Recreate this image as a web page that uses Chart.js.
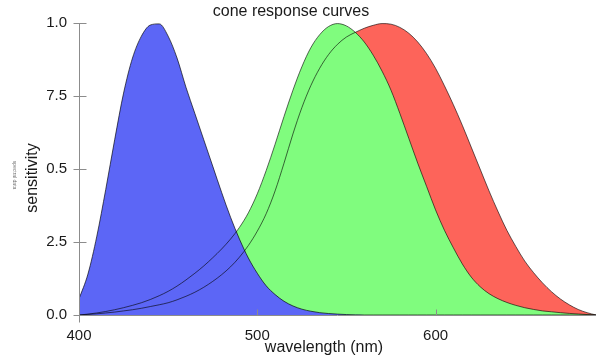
<!DOCTYPE html>
<html>
<head>
<meta charset="utf-8">
<script src="https://cdn.jsdelivr.net/npm/chart.js@4"></script>
<style>
  html, body { margin:0; padding:0; background:#fff; }
</style>
</head>
<body>
<canvas id="coneChart" width="602" height="359"></canvas>
<script>
// wavelength samples (nm) and cone sensitivities at each one
const wavelengths = [400,405,410,415,420,425,430,435,440,445,450,455,460,465,470,475,480,485,490,495,
                     500,505,510,515,520,525,530,535,540,545,550,555,560,565,570,575,580,585,590,595,
                     600,605,610,615,620,625,630,635,640,645,650,655,660,665,670,675,680,685,690];

const sCone = [0.055,0.14,0.27,0.43,0.60,0.76,0.88,0.955,0.993,0.997,0.955,0.88,0.78,0.69,0.60,0.51,0.42,0.335,0.26,0.195,
               0.143,0.10,0.07,0.047,0.031,0.02,0.013,0.008,0.005,0.003,0.0015,0.0005,0,0,0,0,0,0,0,0,
               0,0,0,0,0,0,0,0,0,0,0,0,0,0,0,0,0,0,0];

const mCone = [0,0.003,0.007,0.012,0.018,0.025,0.033,0.042,0.053,0.066,0.081,0.099,0.12,0.143,0.168,0.196,0.226,0.26,0.30,0.35,
               0.415,0.495,0.585,0.68,0.77,0.85,0.915,0.96,0.988,0.998,0.99,0.968,0.935,0.89,0.835,0.77,0.69,0.605,0.52,0.44,
               0.36,0.29,0.23,0.175,0.13,0.097,0.073,0.056,0.043,0.033,0.025,0.019,0.014,0.011,0.008,0.0055,0.0035,0.0015,0];

const lCone = [0,0.002,0.004,0.007,0.01,0.014,0.018,0.023,0.029,0.035,0.042,0.052,0.064,0.078,0.095,0.115,0.138,0.165,0.198,0.238,
               0.287,0.347,0.425,0.52,0.62,0.71,0.785,0.845,0.892,0.927,0.952,0.968,0.982,0.992,0.998,0.996,0.985,0.965,0.935,0.895,
               0.845,0.785,0.72,0.65,0.575,0.50,0.425,0.355,0.29,0.235,0.185,0.145,0.11,0.08,0.055,0.035,0.019,0.008,0];

const xTickValues = [400, 500, 600];
const yTickValues = [0, 0.25, 0.5, 0.75, 1];
const yTickLabels = ["0.0", "2.5", "0.5", "7.5", "1.0"];

const chartTitle = "cone response curves";
const xTitle = "wavelength (nm)";
const yTitle = "sensitivity";
const yNote = "spectral data";

const FONT = "'Liberation Sans', Arial, Helvetica, sans-serif";

const toPoints = vals => wavelengths.map((w, i) => ({ x: w, y: vals[i] }));

function curve(vals, fill, edge) {
  return {
    data: toPoints(vals),
    backgroundColor: fill,
    borderColor: edge,
    borderWidth: 1,
    fill: "origin",
    pointRadius: 0,
    cubicInterpolationMode: "monotone"
  };
}

// axis lines, crossing ticks and the text around the plot
const axisDecor = {
  id: "axisDecor",
  afterDatasetsDraw(chart) {
    const { ctx, chartArea: a, scales: { x, y } } = chart;
    ctx.save();
    ctx.strokeStyle = "#8c8c8c";
    ctx.lineWidth = 1;
    ctx.beginPath();
    const ax = Math.round(a.left) + 0.5;
    const ay = Math.round(a.bottom) + 0.5;
    ctx.moveTo(ax, Math.round(y.getPixelForValue(1)));
    ctx.lineTo(ax, ay + 7);
    ctx.moveTo(a.left, ay);
    ctx.lineTo(a.right, ay);
    yTickValues.forEach(v => {
      const py = Math.round(y.getPixelForValue(v)) + 0.5;
      ctx.moveTo(ax - 6, py);
      ctx.lineTo(ax + 7, py);
    });
    xTickValues.forEach(v => {
      const px = Math.round(x.getPixelForValue(v)) + 0.5;
      ctx.moveTo(px, ay);
      ctx.lineTo(px, ay - 6);
    });
    ctx.stroke();

    ctx.fillStyle = "#1a1a1a";
    ctx.textAlign = "center";
    ctx.textBaseline = "middle";
    ctx.font = "16px " + FONT;
    ctx.fillText(chartTitle, 291, 12);
    ctx.fillText(xTitle, 324, 348);

    ctx.save();
    ctx.translate(33, 178);
    ctx.rotate(-Math.PI / 2);
    ctx.fillText(yTitle, 0, 0);
    ctx.restore();

    ctx.save();
    ctx.fillStyle = "#777";
    ctx.font = "5px " + FONT;
    ctx.translate(14, 175);
    ctx.rotate(Math.PI / 2);
    ctx.fillText(yNote, 0, 0);
    ctx.restore();

    ctx.restore();
  }
};

new Chart(document.getElementById("coneChart"), {
  type: "line",
  data: {
    datasets: [
      curve(sCone, "#5c66f6", "rgba(0,0,0,0.65)"),
      curve(mCone, "#80fc7e", "rgba(0,0,0,0.6)"),
      curve(lCone, "#fd645a", "rgba(0,0,0,0.6)")
    ]
  },
  options: {
    responsive: false,
    animation: false,
    devicePixelRatio: 1,
    layout: { padding: { top: 23, right: 6, left: 0, bottom: 0 } },
    plugins: {
      legend: { display: false },
      tooltip: { enabled: false },
      filler: { drawTime: "beforeDatasetsDraw" }
    },
    scales: {
      x: {
        type: "linear",
        min: 400,
        max: 690,
        afterFit: s => { s.height = 44; },
        afterBuildTicks: s => { s.ticks = xTickValues.map(v => ({ value: v })); },
        grid: { display: false },
        border: { display: false },
        ticks: {
          padding: 4,
          color: "#1a1a1a",
          font: { size: 15, family: FONT },
          maxRotation: 0,
          callback: v => String(v)
        }
      },
      y: {
        min: 0,
        max: 1,
        afterFit: s => { s.width = 79; },
        afterBuildTicks: s => { s.ticks = yTickValues.map(v => ({ value: v })); },
        grid: { display: false, drawTicks: false },
        border: { display: false },
        ticks: {
          padding: 12,
          color: "#1a1a1a",
          font: { size: 15, family: FONT },
          callback: (v, i) => yTickLabels[i]
        }
      }
    }
  },
  plugins: [axisDecor]
});
</script>
</body>
</html>
